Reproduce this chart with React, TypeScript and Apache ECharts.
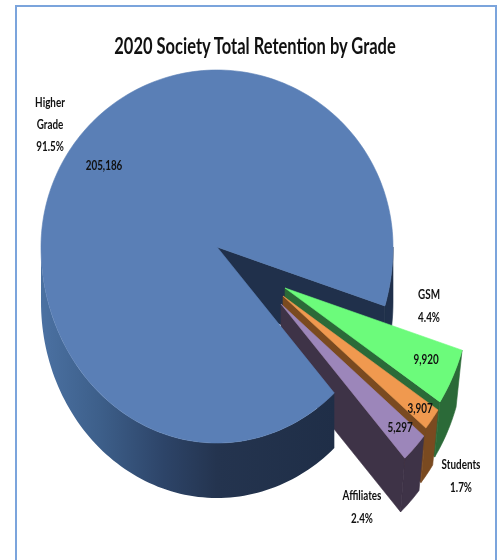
import React, { useEffect, useRef } from "react";
import * as echarts from "echarts";

const categories = ["GSM", "Students", "Affiliates", "Higher Grade"];
const values = [9920, 3907, 5297, 205186];
const nameLabels = ["GSM", "Students", "Affiliates", "Higher\nGrade"];
const titleText = "2020 Society Total Retention by Grade";

const faceColors = ["#6cfb7b", "#f0994f", "#9c86ba", "#5a7fb6"];
const wallColors = ["#2b6a38", "#7a4a20", "#3e3347", "#20304b"];

// layout
const APEX = [217, 247];
const RX = 176, RY_UP = 177, RY_DOWN = 196;
const START_DEG = 17.5;
const EXPLODED_RADIUS = 1.055;
const EXPLODED_SHRINK = 0.966;
const EXPLODED_DEPTH = 59;
const BODY_DEPTH = 55;
const sliceOffsets = [[68, 41], [66, 49], [64, 57], [0, 0]];
const namePos = [[429, 305], [461, 475], [362, 506], [50, 124]];
const valuePos = [[426, 359], [420, 408], [400, 427], [104, 165]];
const FONT = "Lato, 'Liberation Sans', sans-serif";

const total = values.reduce((a, b) => a + b, 0);
const spans: number[][] = [];
values.reduce((acc, v) => {
  const next = acc + (v / total) * 360;
  spans.push([acc, next]);
  return next;
}, START_DEG);

const ringPoint = (i: number, deg: number, radius: number, shrink: number, depth: number) => {
  const t = (deg * Math.PI) / 180;
  const s = Math.sin(t);
  const o = sliceOffsets[i];
  return [
    APEX[0] + o[0] + RX * Math.cos(t) * radius * shrink,
    APEX[1] + o[1] + (s > 0 ? RY_DOWN : RY_UP) * s * radius * shrink + depth,
  ];
};
const arc = (i: number, a: number, b: number, radius: number, shrink: number, depth: number) => {
  const pts: number[][] = [];
  const n = Math.max(2, Math.ceil(Math.abs(b - a) / 1.5));
  for (let k = 0; k <= n; k++) pts.push(ringPoint(i, a + ((b - a) * k) / n, radius, shrink, depth));
  return pts;
};
const poly = (points: number[][], fill: any) => ({
  type: "polygon",
  shape: { points },
  style: typeof fill === "string"
    ? { fill, stroke: fill, lineWidth: 0.6 }
    : { fill, stroke: "none" },
});
const bodyGradient = {
  type: "linear", x: 0, y: 0, x2: 1, y2: 0,
  colorStops: [
    { offset: 0, color: "#4b71a2" },
    { offset: 0.2, color: "#3d5f8a" },
    { offset: 0.42, color: "#2d4468" },
    { offset: 0.6, color: "#24344f" },
    { offset: 1, color: "#1f2e47" },
  ],
};

const renderBack = () => {
  const i = 3;
  const end = START_DEG;
  const apexTop = [APEX[0], APEX[1]];
  const p = ringPoint(i, end, 1, 1, 0);
  return {
    type: "group",
    children: [
      poly(
        [...arc(i, 0, end, 1, 1, 0), ...arc(i, end, 0, 1, 1, BODY_DEPTH)],
        wallColors[i],
      ),
      poly(
        [apexTop, p, [p[0], p[1] + BODY_DEPTH], [apexTop[0], apexTop[1] + BODY_DEPTH]],
        wallColors[i],
      ),
    ],
  };
};

const renderFront = (params: any) => {
  const i = params.dataIndex;
  const [a, b] = spans[i];
  if (i === 3) {
    return {
      type: "group",
      children: [
        poly([...arc(i, a, 180, 1, 1, 0), ...arc(i, 180, a, 1, 1, BODY_DEPTH)], bodyGradient),
        poly([APEX, ...arc(i, a, b, 1, 1, 0)], faceColors[i]),
      ],
    };
  }
  const apex = ringPoint(i, 0, 0, 1, 0);
  const apexLow = ringPoint(i, 0, 0, 1, EXPLODED_DEPTH);
  const endPt = ringPoint(i, b, EXPLODED_RADIUS, 1, 0);
  const endLow = ringPoint(i, b, EXPLODED_RADIUS, EXPLODED_SHRINK, EXPLODED_DEPTH);
  return {
    type: "group",
    children: [
      poly(
        [...arc(i, a, b, EXPLODED_RADIUS, 1, 0), ...arc(i, b, a, EXPLODED_RADIUS, EXPLODED_SHRINK, EXPLODED_DEPTH)],
        wallColors[i],
      ),
      poly([apex, endPt, endLow, apexLow], wallColors[i]),
      poly([apex, ...arc(i, a, b, EXPLODED_RADIUS, 1, 0)], faceColors[i]),
    ],
  };
};

const textEl = (text: string, pos: number[], size: number, weight: string, lineHeight: number, scaleX: number) => ({
  type: "text",
  x: pos[0],
  y: pos[1],
  scaleX,
  z: 20,
  style: {
    text,
    fill: "#111",
    font: `${weight} ${size}px ${FONT}`,
    lineHeight,
    align: "center",
    verticalAlign: "middle",
  },
});

export default function App() {
  const ref = useRef<HTMLDivElement>(null);
  useEffect(() => {
    document.body.style.margin = "0";
    const chart = echarts.init(ref.current!, undefined, { renderer: "svg" });
    const labels = values.flatMap((v, i) => [
      textEl(`${nameLabels[i]}\n${((v / total) * 100).toFixed(1)}%`, namePos[i], 13, "bold", i === 3 ? 22 : 23, 0.76),
      textEl(v.toLocaleString("en-US"), valuePos[i], 13, "bold", 14, 0.76),
    ]);
    chart.setOption({
      animation: false,
      backgroundColor: "#ffffff",
      graphic: [
        {
          type: "rect",
          shape: { x: 16, y: 6, width: 480, height: 600 },
          style: { fill: "none", stroke: "#7ba4dc", lineWidth: 2 },
          z: 0,
        },
        textEl(titleText, [255, 46], 22, "bold", 24, 0.75),
        ...labels,
      ],
      series: [
        {
          type: "custom",
          name: "Back",
          coordinateSystem: "none",
          silent: true,
          z: 2,
          renderItem: renderBack,
          data: [{ name: categories[3], value: values[3] }],
        },
        {
          type: "custom",
          name: "Retention",
          coordinateSystem: "none",
          silent: true,
          z: 3,
          renderItem: renderFront,
          data: categories.map((name, i) => ({ name, value: values[i] })),
        },
      ],
    });
    return () => chart.dispose();
  }, []);
  return (
    <div
      ref={ref}
      style={{ position: "fixed", left: 0, top: 0, width: 498, height: 560, filter: "blur(0.7px)" }}
    />
  );
}
